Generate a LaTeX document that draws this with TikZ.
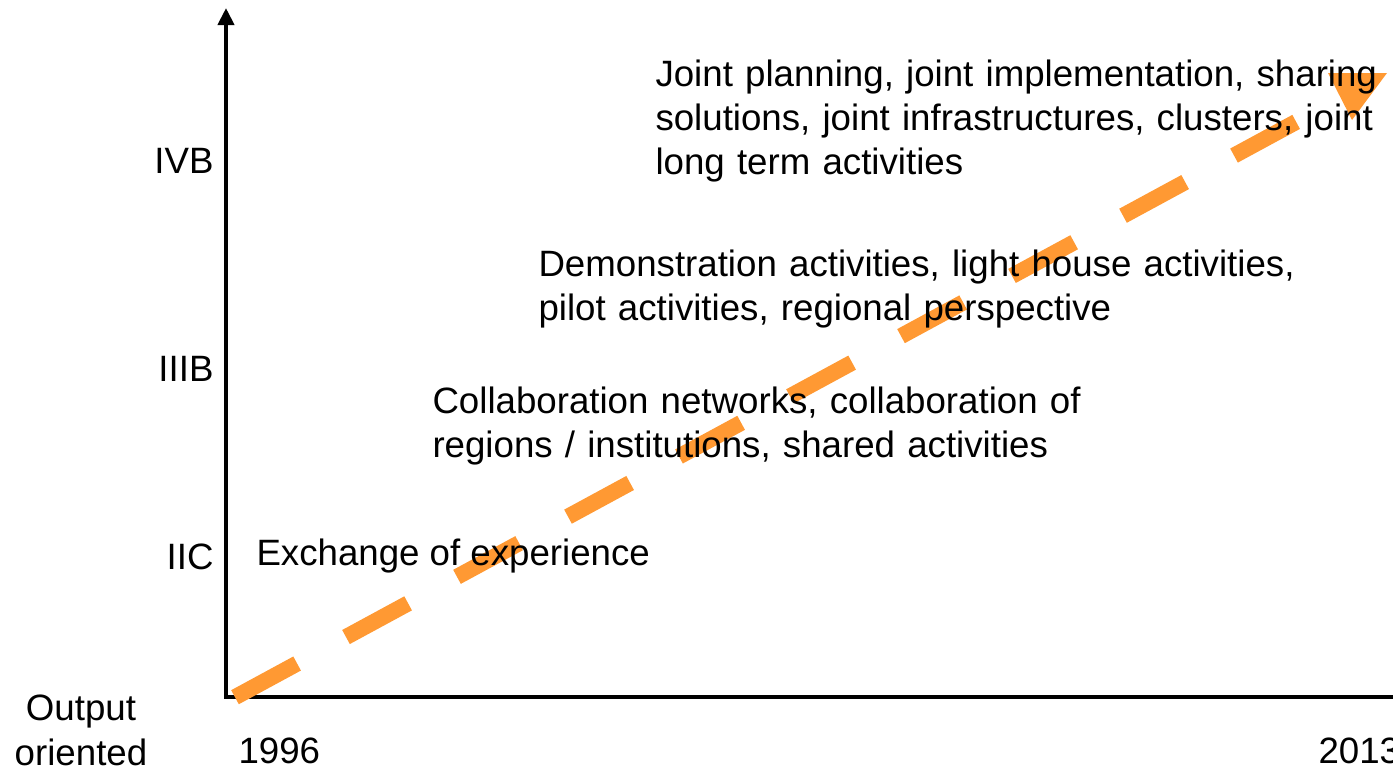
\documentclass[tikz,border=0pt]{standalone}
\usepackage{fontspec}
\setmainfont{Liberation Sans}
\usetikzlibrary{arrows.meta}

\definecolor{trendorange}{RGB}{255,153,51}

\tikzset{every picture/.style={line width=0.75pt}}
\tikzset{
  lbl/.style={font=\fontsize{27.5}{33}\selectfont, inner sep=0pt},
  blocktext/.style={lbl, anchor=base west, align=left, text width=#1},
  axisline/.style={line width=3pt, -{Triangle[length=12.75pt,width=12pt]}},
  trendline/.style={draw=trendorange, line width=12pt, dash pattern=on 53pt off 41.7pt}
}

\begin{document}
\begin{tikzpicture}[x=0.75pt,y=0.75pt,yscale=-1,xscale=1]
        \useasboundingbox (0,0) rectangle (1393,768);

        %Axes
        \coordinate (xend) at (1400,697);
        \coordinate (orig) at (226,697);
        \coordinate (ytop) at (226,8);
        \draw [axisline] (xend) -- (orig) -- (ytop);

        %Dashed trend line
        \coordinate (tstart) at (235,697.2);
        \coordinate (tend) at (1300,119.8);
        \draw [trendline] (tstart) -- (tend);
        %Arrow head of trend line
        \coordinate (headl) at (1328,73);
        \coordinate (headr) at (1387,73);
        \coordinate (headtip) at (1352,120);
        \fill [trendorange] (headl) -- (headr) -- (headtip) -- cycle;

        % Level labels
        \node [lbl, anchor=base east] (ivb) at (214,173) {IVB};
        \node [lbl, anchor=base east] (iiib) at (214,381) {IIIB};
        \node [lbl, anchor=base east] (iic) at (214,569) {IIC};

        % Year labels
        \node [lbl, anchor=base west] (ystart) at (238,763) {1996};
        \node [lbl, anchor=base west] (yend) at (1318,763) {2013};
        \node [lbl, anchor=base, align=center] (output) at (81,765) {Output\\[0.75pt]oriented};

        % Text Node
        \node [blocktext=570pt] (joint) at (655,86) {Joint planning, joint implementation, sharing\\solutions, joint infrastructures, clusters, joint\\long term activities};
        % Text Node
        \node [blocktext=570pt] (demo) at (538,276) {Demonstration activities, light house activities,\\pilot activities, regional perspective};
        % Text Node
        \node [blocktext=570pt] (collab) at (432,413) {Collaboration networks, collaboration of\\regions / institutions, shared activities};
        % Text Node
        \node [lbl, anchor=base west] (exchange) at (256,565) {Exchange of experience};

\end{tikzpicture}
\end{document}
